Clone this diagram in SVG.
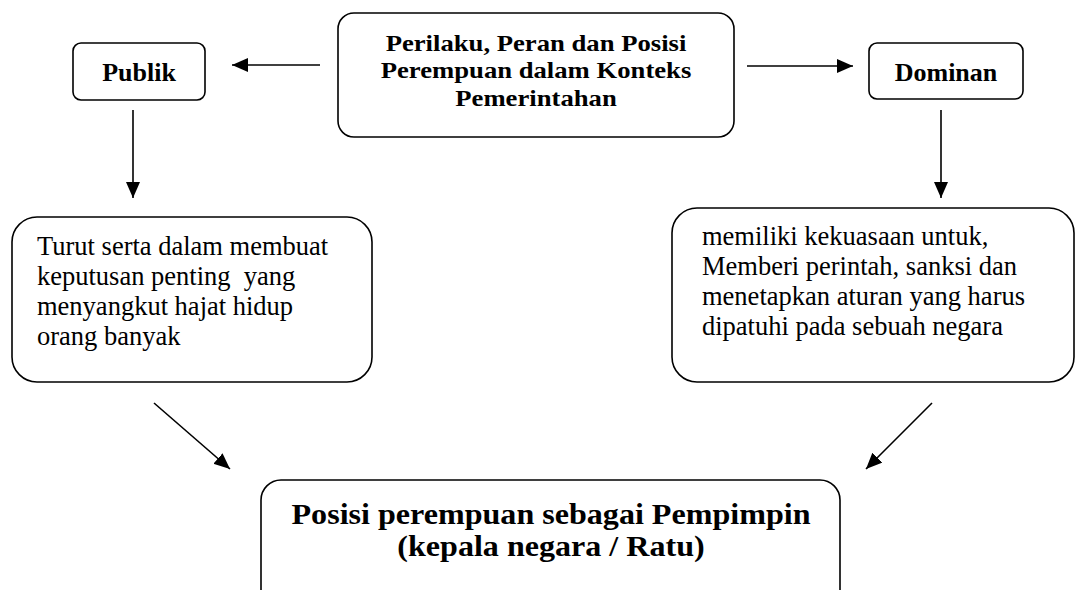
<svg xmlns="http://www.w3.org/2000/svg" width="1075" height="590" viewBox="0 0 1075 590">
<style>
.box{fill:#fff;stroke:#000;stroke-width:1.6}
.b{font-family:"Liberation Serif","Times New Roman",serif;font-weight:bold;font-size:23px;fill:#000}
.bs{font-family:"Liberation Serif","Times New Roman",serif;font-weight:bold;font-size:26px;fill:#000}
.r{font-family:"Liberation Serif","Times New Roman",serif;font-size:26.5px;fill:#000}
.big{font-family:"Liberation Serif","Times New Roman",serif;font-weight:bold;font-size:30px;fill:#000}
.c{stroke:#000;stroke-width:1.6;fill:none;marker-end:url(#ah)}
</style>
<defs>
<marker id="ah" markerUnits="userSpaceOnUse" markerWidth="18" markerHeight="16" refX="16" refY="7" orient="auto">
<path d="M0,0 L16,7 L0,14 Z" fill="#000"/>
</marker>
</defs>
<rect width="1075" height="590" fill="#fff"/>
<g id="connectors">
<line class="c" x1="320" y1="65" x2="232" y2="65"/>
<line class="c" x1="747" y1="66" x2="853" y2="66"/>
<line class="c" x1="133" y1="110" x2="133" y2="198"/>
<line class="c" x1="941" y1="110" x2="941" y2="198"/>
<line class="c" x1="154" y1="403" x2="230" y2="469"/>
<line class="c" x1="932" y1="403" x2="866" y2="469"/>
</g>
<g id="node-top">
<rect class="box" x="338" y="13" width="396" height="124" rx="16"/>
<g transform="translate(536,0) scale(1.16,1)">
<text class="b" text-anchor="middle" x="0" y="51">Perilaku, Peran dan Posisi</text>
<text class="b" text-anchor="middle" x="0" y="78.5">Perempuan dalam Konteks</text>
<text class="b" text-anchor="middle" x="0" y="106">Pemerintahan</text>
</g>
</g>
<g id="node-publik">
<rect class="box" x="73" y="43" width="132" height="57" rx="8"/>
<text class="bs" text-anchor="middle" x="139" y="81">Publik</text>
</g>
<g id="node-dominan">
<rect class="box" x="869" y="43" width="154" height="56" rx="8"/>
<text class="bs" text-anchor="middle" x="946" y="81">Dominan</text>
</g>
<g id="node-left">
<rect class="box" x="12" y="217" width="360" height="165" rx="25"/>
<text class="r" x="37" y="255">Turut serta dalam membuat</text>
<text class="r" x="37" y="285" xml:space="preserve">keputusan penting  yang</text>
<text class="r" x="37" y="315">menyangkut hajat hidup</text>
<text class="r" x="37" y="345">orang banyak</text>
</g>
<g id="node-right">
<rect class="box" x="672" y="208" width="402" height="174" rx="25"/>
<text class="r" x="702" y="245">memiliki kekuasaan untuk,</text>
<text class="r" x="702" y="275">Memberi perintah, sanksi dan</text>
<text class="r" x="702" y="305">menetapkan aturan yang harus</text>
<text class="r" x="702" y="335">dipatuhi pada sebuah negara</text>
</g>
<g id="node-bottom">
<rect class="box" x="261" y="480" width="579" height="130" rx="20"/>
<g transform="translate(551,0) scale(1.07,1)">
<text class="big" text-anchor="middle" x="0" y="524">Posisi perempuan sebagai Pempimpin</text>
<text class="big" text-anchor="middle" x="0" y="556">(kepala negara / Ratu)</text>
</g>
</g>
</svg>
